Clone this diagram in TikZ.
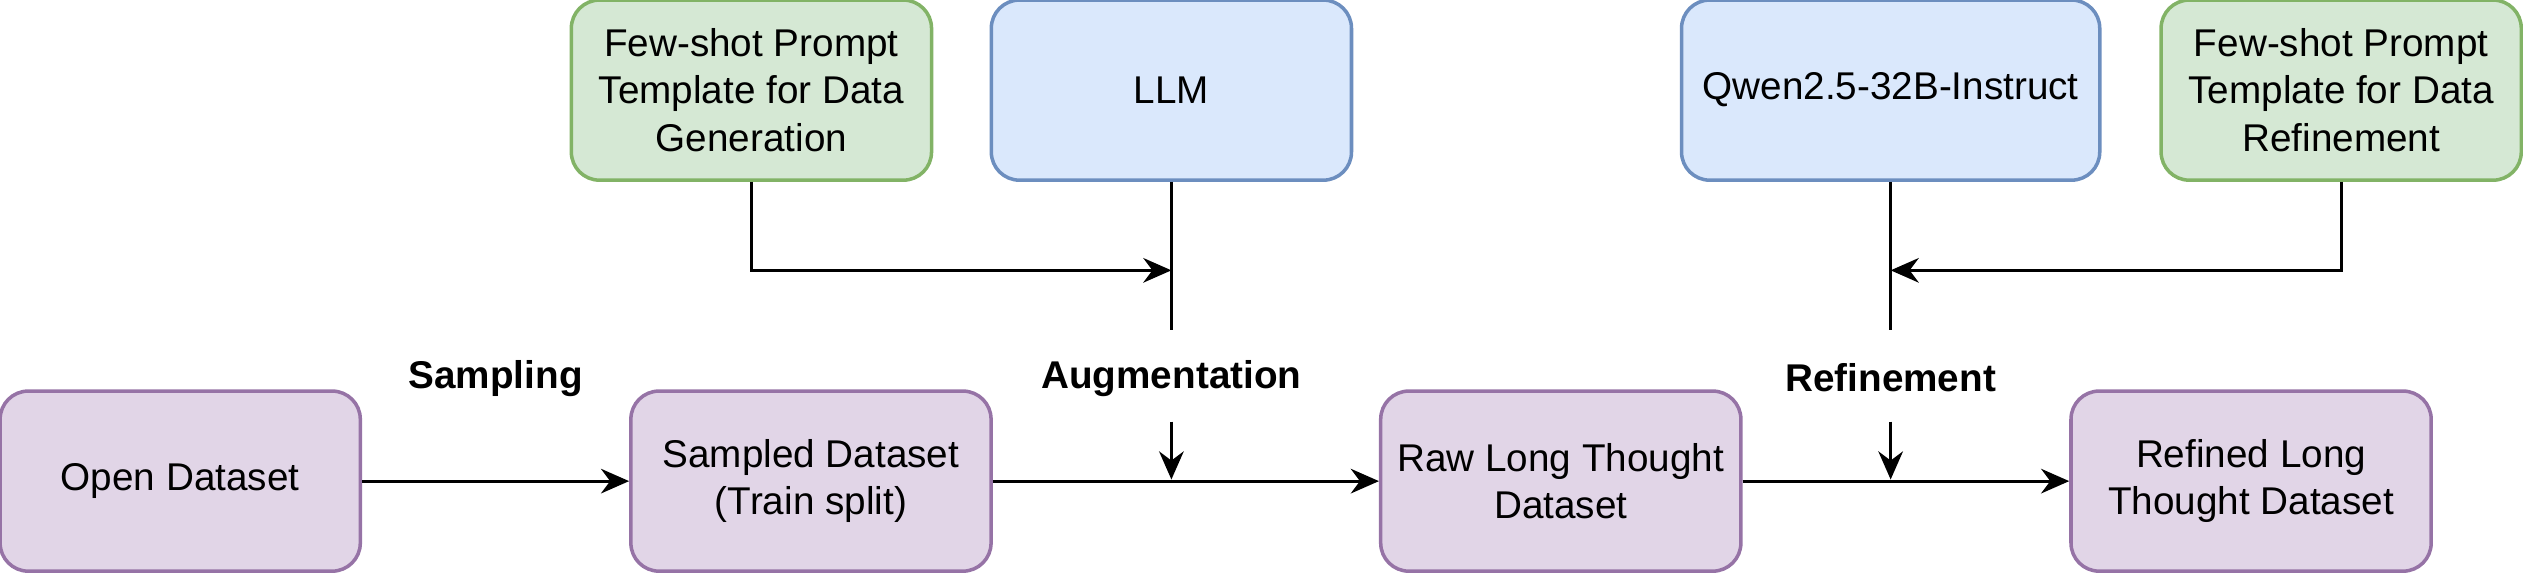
\documentclass[tikz,border=0pt]{standalone}
\usepackage{fontspec}
\setmainfont{Liberation Sans}
\usetikzlibrary{arrows.meta}
\definecolor{gfill}{HTML}{D5E8D4}\definecolor{gdraw}{HTML}{82B366}
\definecolor{bfill}{HTML}{DAE8FC}\definecolor{bdraw}{HTML}{6C8EBF}
\definecolor{pfill}{HTML}{E1D5E7}\definecolor{pdraw}{HTML}{9673A6}
\begin{document}
\begin{tikzpicture}[x=0.01609cm, y=-0.01609cm, >={Stealth[length=8pt,width=7pt]}, line width=0.8pt,
      box/.style={rounded corners=8pt, line width=1pt, minimum width=3.6cm, minimum height=1.8cm, inner sep=2pt, align=center, font=\fontsize{11}{13.5}\selectfont},
      data/.style={box, fill=pfill, draw=pdraw},
      tmpl/.style={box, fill=gfill, draw=gdraw},
      model/.style={box, fill=bfill, draw=bdraw},
      stage/.style={font=\bfseries\fontsize{11}{13.5}\selectfont}]
      \useasboundingbox (0,0) rectangle (1568,356);

      \node[data] (open) at (112,299) {Open Dataset};
      \node[data] (sampled) at (504,299) {Sampled Dataset\\(Train split)};
      \node[data] (raw) at (970,299) {Raw Long Thought\\Dataset};
      \node[data] (refined) at (1399,299) {Refined Long\\Thought Dataset};

      \node[tmpl] (gen) at (467,56) {Few-shot Prompt\\Template for Data\\Generation};
      \node[model] (llm) at (728,56) {LLM};
      \node[model, minimum width=4.18cm] (qwen) at (1175,56) {Qwen2.5-32B-Instruct};
      \node[tmpl] (ref) at (1455,56) {Few-shot Prompt\\Template for Data\\Refinement};

      \node[stage] (sampling) at (308,235) {Sampling};
      \node[stage] (aug) at (728,235) {Augmentation};
      \node[stage] (refn) at (1175,235) {Refinement};

      \coordinate (j1) at (728,168);
      \coordinate (a1) at (728,205);
      \coordinate (a2) at (728,262);
      \coordinate (a3) at (728,298);
      \coordinate (j2) at (1175,168);
      \coordinate (r1) at (1175,205);
      \coordinate (r2) at (1175,262);
      \coordinate (r3) at (1175,298);

      % flow
      \draw[->] (open) -- (sampled);
      \draw[->] (sampled) -- (raw);
      \draw[->] (raw) -- (refined);

      % augmentation inputs
      \draw[->] (gen.south) |- (j1);
      \draw (llm.south) -- (a1);
      \draw[->] (a2) -- (a3);

      % refinement inputs
      \draw[->] (ref.south) |- (j2);
      \draw (qwen.south) -- (r1);
      \draw[->] (r2) -- (r3);
\end{tikzpicture}
\end{document}
